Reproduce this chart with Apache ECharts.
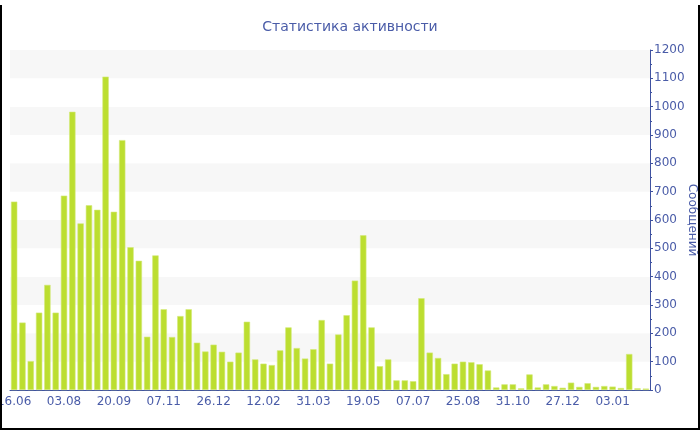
<!DOCTYPE html>
<html>
<head>
<meta charset="utf-8">
<script src="https://cdn.jsdelivr.net/npm/echarts@6/dist/echarts.min.js"></script>
<style>
html,body{margin:0;padding:0;background:#fff;}
#wrap{position:absolute;left:0;top:0;width:700px;height:430px;}
#chart{position:absolute;left:0;top:0;width:700px;height:430px;}
#frame{position:absolute;left:0;top:5px;width:700px;height:425px;box-sizing:border-box;border-left:2px solid #000;border-right:2px solid #000;border-bottom:2px solid #000;pointer-events:none;}
</style>
</head>
<body>
<div id="wrap"><div id="chart"></div><div id="frame"></div></div>
<script>
const titleText = 'Статистика активности';
const axisName = 'Сообщений';
const categories = [
  '16.06','24.06','02.07','10.07','18.07','26.07',
  '03.08','11.08','19.08','27.08','04.09','12.09',
  '20.09','28.09','06.10','14.10','22.10','30.10',
  '07.11','15.11','23.11','01.12','09.12','17.12',
  '26.12','03.01','11.01','19.01','27.01','04.02',
  '12.02','20.02','28.02','07.03','15.03','23.03',
  '31.03','08.04','16.04','24.04','02.05','10.05',
  '19.05','27.05','04.06','12.06','20.06','28.06',
  '07.07','15.07','23.07','31.07','08.08','16.08',
  '25.08','06.09','17.09','28.09','09.10','20.10',
  '31.10','09.11','18.11','27.11','06.12','15.12',
  '27.12','28.12','29.12','30.12','31.12','02.01',
  '03.01','04.01','05.01','06.01','07.01'
];
const messages = [
  665,238,102,273,371,273,
  686,982,588,652,636,1106,
  629,882,504,456,188,475,
  285,187,261,285,167,136,
  160,135,100,132,241,108,
  93,88,140,221,148,111,
  144,247,93,196,264,386,
  546,221,84,108,34,34,
  31,324,132,113,56,93,
  100,98,91,69,9,20,
  20,6,55,9,20,14,
  8,26,11,24,11,14,
  12,7,127,6,5
];
const yTicks = {min:0, max:1200, interval:100};

const blue = '#4a5ca8';
const chart = echarts.init(document.getElementById('chart'), null, {renderer:'canvas'});
chart.setOption({
  animation:false,
  backgroundColor:'#ffffff',
  title:{
    text:titleText, left:'center', top:15,
    textStyle:{fontFamily:'DejaVu Sans', fontSize:14, fontWeight:'normal', color:blue}
  },
  grid:{left:10, right:50, top:50, bottom:40, containLabel:false, outerBoundsMode:'none'},
  xAxis:{
    type:'category', data:categories, boundaryGap:true,
    axisLine:{lineStyle:{color:'#3f52a0', width:1}},
    axisTick:{alignWithLabel:true, interval:5, length:4, lineStyle:{color:'#3f52a0'}},
    axisLabel:{interval:5, color:blue, fontFamily:'DejaVu Sans', fontSize:12, margin:6, showMinLabel:true, hideOverlap:false},
    splitLine:{show:false}
  },
  yAxis:{
    type:'value', position:'right', min:yTicks.min, max:yTicks.max, interval:yTicks.interval,
    name:axisName, nameLocation:'middle', nameRotate:-90, nameGap:36, nameMoveOverlap:false,
    nameTextStyle:{color:blue, fontFamily:'DejaVu Sans', fontSize:12},
    axisLine:{show:true, lineStyle:{color:'#3f52a0', width:1}},
    axisTick:{show:true, length:3, lineStyle:{color:'#3f52a0'}},
    minorTick:{show:true, splitNumber:2, length:2, lineStyle:{color:'#3f52a0'}},
    axisLabel:{color:blue, fontFamily:'DejaVu Sans', fontSize:12, margin:4, formatter:function(v){return String(v);}},
    splitLine:{show:false},
    splitArea:{show:true, areaStyle:{color:['#ffffff','#f7f7f7']}}
  },
  series:[{
    type:'bar', data:messages, barCategoryGap:'24%',
    itemStyle:{color:'#bcde30', borderColor:'#d3ea78', borderWidth:0.6}
  }]
});
</script>
</body>
</html>
